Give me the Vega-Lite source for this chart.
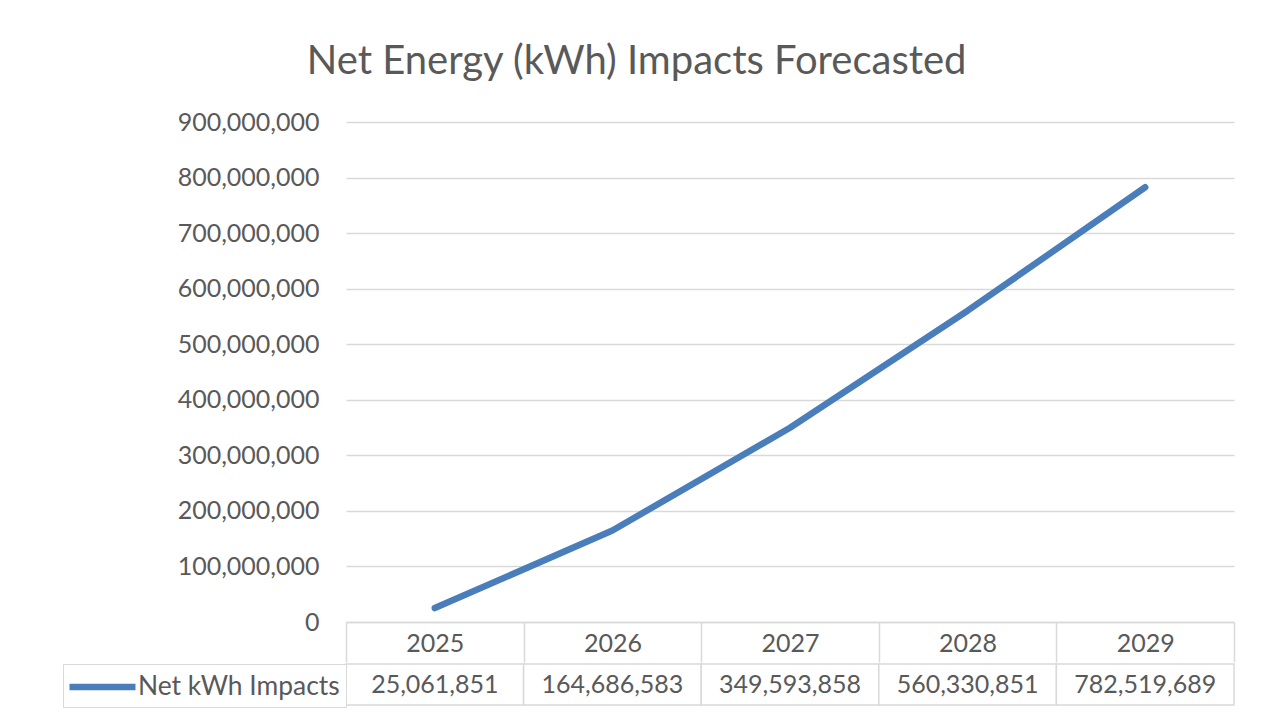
{
  "$schema": "https://vega.github.io/schema/vega-lite/v6.json",
  "autosize": {"type": "pad"},
  "padding": {"left": 62, "top": 42, "right": 33, "bottom": 19},
  "background": "white",
  "title": {"text": "Net Energy (kWh) Impacts Forecasted", "fontSize": 40, "font": "Lato", "fontWeight": "normal", "color": "#595959", "anchor": "middle", "offset": 28, "dx": -12},
  "datasets": {
    "impacts": [
      {"Year": "2025", "Series": "Net kWh Impacts", "kWh": 25061851},
      {"Year": "2026", "Series": "Net kWh Impacts", "kWh": 164686583},
      {"Year": "2027", "Series": "Net kWh Impacts", "kWh": 349593858},
      {"Year": "2028", "Series": "Net kWh Impacts", "kWh": 560330851},
      {"Year": "2029", "Series": "Net kWh Impacts", "kWh": 782519689}
    ]
  },
  "config": {"font": "Lato", "view": {"stroke": null}, "concat": {"spacing": 0}},
  "resolve": {"legend": {"color": "independent"}},
  "vconcat": [
    {
      "width": 888,
      "height": 500,
      "data": {"name": "impacts"},
      "mark": {"type": "line", "color": "#4a7ebb", "strokeWidth": 6.5, "strokeCap": "round", "strokeJoin": "round"},
      "encoding": {
        "x": {
          "field": "Year", "type": "ordinal",
          "scale": {"type": "band", "paddingInner": 0, "paddingOuter": 0},
          "axis": {"title": null, "labelAngle": 0, "domainColor": "#d9d9d9", "domainWidth": 1.5, "ticks": true, "tickBand": "extent", "tickSize": 40, "tickColor": "#d9d9d9", "tickWidth": 1.5, "labelFontSize": 25, "labelColor": "#595959", "labelPadding": -19, "labelBaseline": "middle", "grid": false}
        },
        "y": {
          "field": "kWh", "type": "quantitative",
          "scale": {"domain": [0, 900000000], "nice": false},
          "axis": {"title": null, "values": [0, 100000000, 200000000, 300000000, 400000000, 500000000, 600000000, 700000000, 800000000, 900000000], "format": ",d", "domain": false, "ticks": false, "labelPadding": 27, "labelFontSize": 25, "labelColor": "#595959", "gridColor": "#d9d9d9", "gridWidth": 1.5}
        }
      }
    },
    {
      "width": 888,
      "height": 41,
      "data": {"name": "impacts"},
      "encoding": {
        "x": {"field": "Year", "type": "ordinal", "scale": {"type": "band", "paddingInner": 0, "paddingOuter": 0}, "axis": null}
      },
      "layer": [
        {"mark": {"type": "rect", "fill": "white", "stroke": "#d9d9d9", "strokeWidth": 1.5}},
        {
          "mark": {"type": "text", "fontSize": 25},
          "encoding": {
            "text": {"field": "kWh", "type": "quantitative", "format": ",d"},
            "color": {
              "field": "Series", "type": "nominal",
              "scale": {"range": ["#595959"]},
              "legend": {"title": null, "orient": "left", "offset": 0, "strokeColor": "#d9d9d9", "fillColor": "white", "padding": 6, "symbolType": "M-1.222,0H3.667", "symbolSize": 729, "symbolStrokeColor": "#4a7ebb", "symbolStrokeWidth": 6.5, "symbolFillColor": "transparent", "labelFontSize": 26.4, "labelColor": "#595959", "labelOffset": 35, "labelLimit": 400}
            }
          }
        }
      ]
    }
  ]
}
